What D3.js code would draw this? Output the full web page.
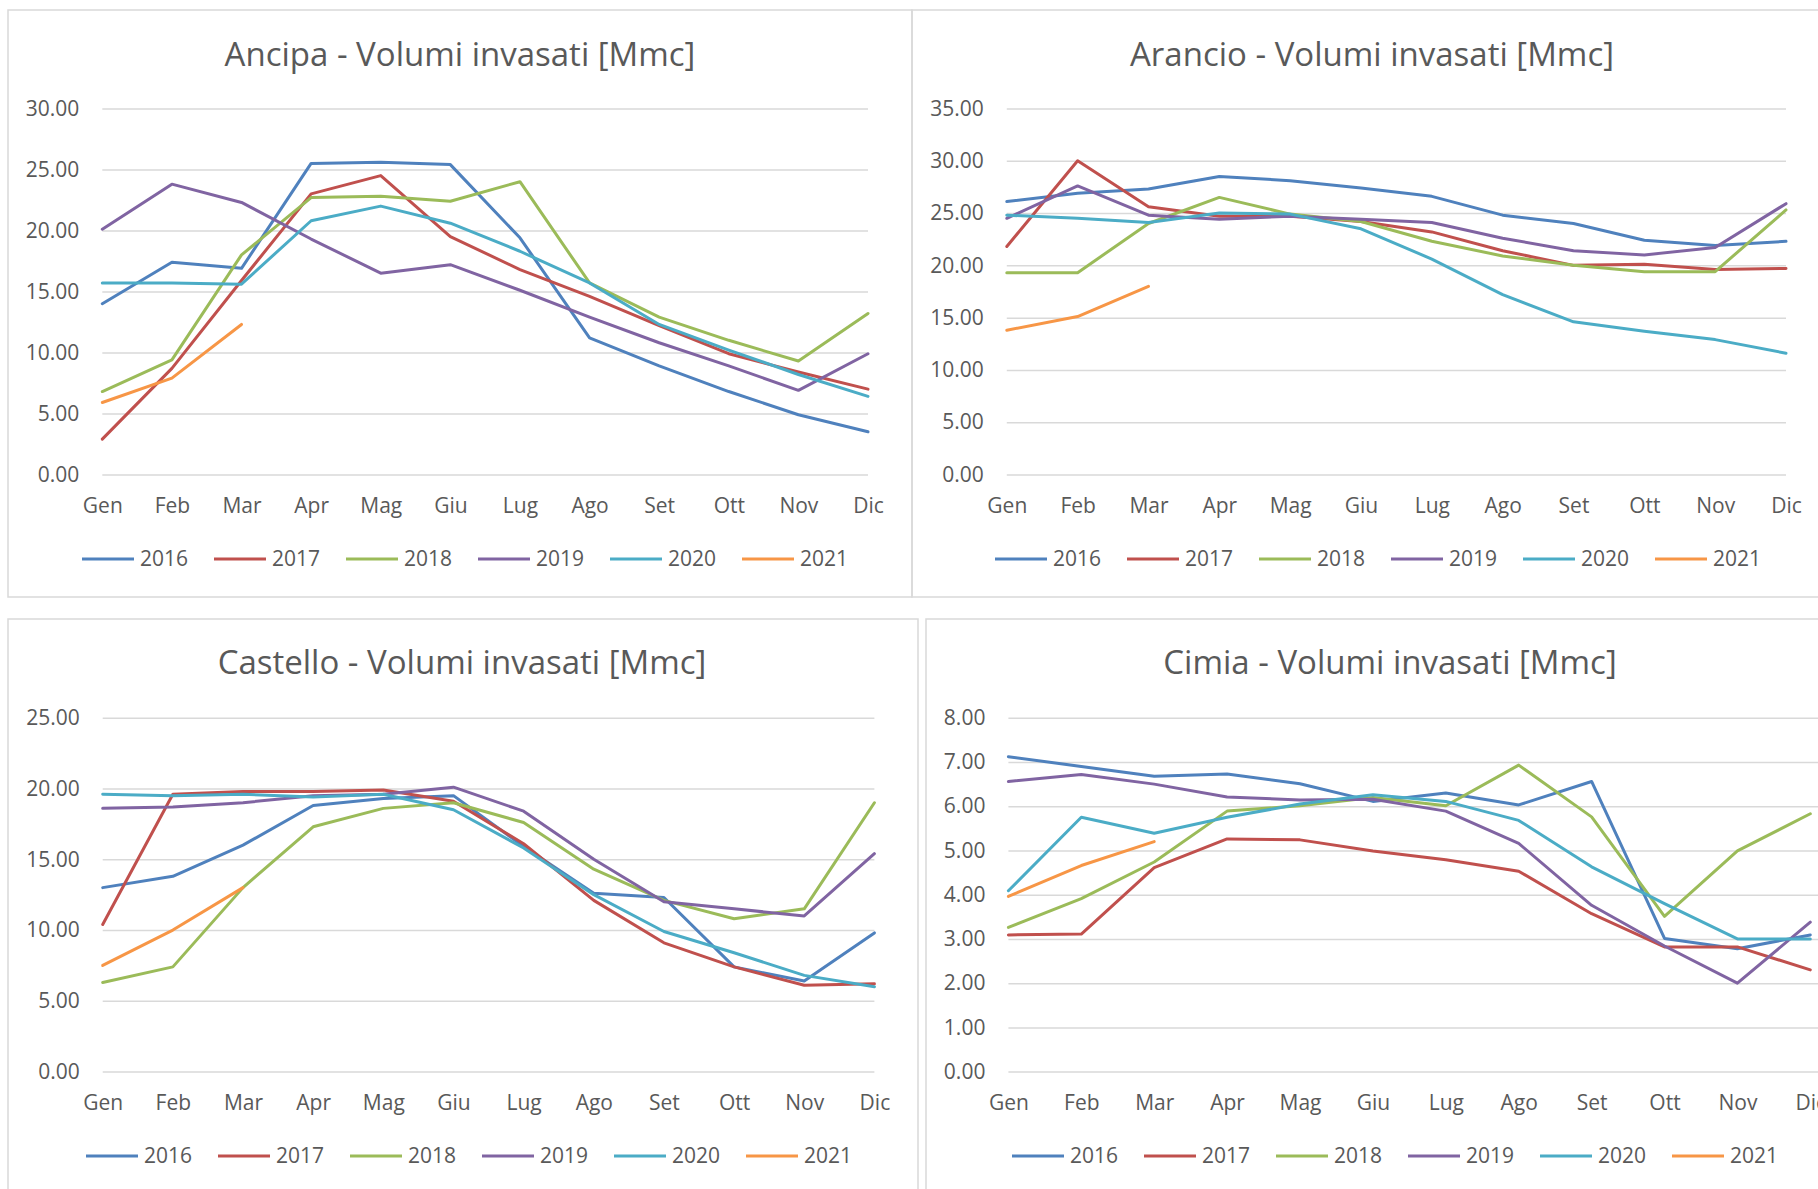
<!DOCTYPE html>
<html>
<head>
<meta charset="utf-8">
<script src="https://cdn.jsdelivr.net/npm/d3@7"></script>
<style>
    body { margin: 0; background: #fff; }
    svg { display: block; }
    text { font-family: "Open Sans", sans-serif; fill: #595959; }
</style>
</head>
<body>
<div id="chart"></div>
<script>
// months and series
var months = ["Gen", "Feb", "Mar", "Apr", "Mag", "Giu", "Lug", "Ago", "Set", "Ott", "Nov", "Dic"];
var years = ["2016", "2017", "2018", "2019", "2020", "2021"];
var colors = ["#4F81BD", "#C0504D", "#9BBB59", "#8064A2", "#4BACC6", "#F79646"];

// one row per year, values in Mmc
var ancipa = [
    [14.0, 17.4, 16.9, 25.5, 25.6, 25.4, 19.4, 11.2, 8.9, 6.8, 4.9, 3.5],
    [2.9, 8.7, 15.9, 23.0, 24.5, 19.5, 16.8, 14.6, 12.2, 9.9, 8.4, 7.0],
    [6.8, 9.4, 18.0, 22.7, 22.8, 22.4, 24.0, 15.7, 12.9, 11.0, 9.3, 13.2],
    [20.1, 23.8, 22.3, 19.3, 16.5, 17.2, 15.1, 12.9, 10.8, 8.9, 6.9, 9.9],
    [15.7, 15.7, 15.6, 20.8, 22.0, 20.6, 18.3, 15.7, 12.3, 10.2, 8.2, 6.4],
    [5.9, 7.9, 12.3]
];
var arancio = [
    [26.1, 26.9, 27.3, 28.5, 28.1, 27.4, 26.6, 24.8, 24.0, 22.4, 21.9, 22.3],
    [21.8, 30.0, 25.6, 24.7, 24.7, 24.2, 23.2, 21.4, 20.0, 20.1, 19.6, 19.7],
    [19.3, 19.3, 24.0, 26.5, 24.9, 24.2, 22.3, 20.9, 20.0, 19.4, 19.4, 25.3],
    [24.5, 27.6, 24.8, 24.4, 24.7, 24.4, 24.1, 22.6, 21.4, 21.0, 21.7, 25.9],
    [24.8, 24.5, 24.1, 25.0, 24.9, 23.5, 20.6, 17.2, 14.6, 13.7, 12.9, 11.6],
    [13.8, 15.1, 18.0]
];
var castello = [
    [13.0, 13.8, 16.0, 18.8, 19.3, 19.5, 15.9, 12.6, 12.3, 7.4, 6.4, 9.8],
    [10.4, 19.6, 19.8, 19.8, 19.9, 19.1, 16.1, 12.1, 9.1, 7.4, 6.1, 6.2],
    [6.3, 7.4, 13.0, 17.3, 18.6, 19.0, 17.6, 14.3, 12.1, 10.8, 11.5, 19.0],
    [18.6, 18.7, 19.0, 19.5, 19.6, 20.1, 18.4, 15.0, 12.0, 11.5, 11.0, 15.4],
    [19.6, 19.5, 19.6, 19.4, 19.6, 18.5, 15.8, 12.5, 9.9, 8.4, 6.8, 6.0],
    [7.5, 10.0, 13.0]
];
var cimia = [
    [7.12, 6.90, 6.68, 6.73, 6.51, 6.11, 6.30, 6.03, 6.56, 3.01, 2.78, 3.09],
    [3.09, 3.11, 4.61, 5.26, 5.24, 4.99, 4.79, 4.53, 3.57, 2.82, 2.82, 2.30],
    [3.26, 3.91, 4.74, 5.89, 6.01, 6.20, 6.01, 6.93, 5.76, 3.51, 4.99, 5.83],
    [6.56, 6.72, 6.50, 6.21, 6.14, 6.16, 5.89, 5.16, 3.76, 2.84, 2.00, 3.38],
    [4.09, 5.75, 5.39, 5.75, 6.05, 6.26, 6.11, 5.68, 4.63, 3.80, 3.00, 3.00],
    [3.96, 4.66, 5.20]
];

var titles = ["Ancipa - Volumi invasati [Mmc]", "Arancio - Volumi invasati [Mmc]",
              "Castello - Volumi invasati [Mmc]", "Cimia - Volumi invasati [Mmc]"];
var yMax = [30, 35, 25, 8];
var yStep = [5, 5, 5, 1];

// layout of the four chart boxes
var panels = [
    {data: ancipa,   frame: [8, 10, 904, 587],   x: [102.3, 868], grid: 868,  y: [474.5, 108.5], cx: 460,  legX: 464,  titleY: 54,  catY: 506,  legY: 559},
    {data: arancio,  frame: [912, 10, 930, 587], x: [1006.8, 1786], grid: 1786, y: [474.5, 108.5], cx: 1372, legX: 1377, titleY: 54,  catY: 506,  legY: 559},
    {data: castello, frame: [8, 619, 910, 620],  x: [102.7, 874.4], grid: 874.4, y: [1071.6, 717.8], cx: 462, legX: 468, titleY: 662, catY: 1103, legY: 1156},
    {data: cimia,    frame: [926, 619, 920, 620], x: [1008.4, 1810.3], grid: 1830, y: [1071.6, 717.8], cx: 1390, legX: 1394, titleY: 662, catY: 1103, legY: 1156}
];

var svg = d3.select("#chart").append("svg")
    .attr("width", 1818)
    .attr("height", 1189);

panels.forEach(function (p, i) {
    var g = svg.append("g");

    g.append("rect")
        .attr("x", p.frame[0]).attr("y", p.frame[1])
        .attr("width", p.frame[2]).attr("height", p.frame[3])
        .attr("fill", "none")
        .attr("stroke", "#d9d9d9")
        .attr("stroke-width", 1.5);

    g.append("text")
        .attr("x", p.cx).attr("y", p.titleY)
        .attr("text-anchor", "middle")
        .attr("dy", "0.35em")
        .style("font-size", "33px")
        .text(titles[i]);

    var x = d3.scalePoint().domain(months).range(p.x);
    var y = d3.scaleLinear().domain([0, yMax[i]]).range(p.y);

    // gridlines + y labels
    var yAxis = g.append("g")
        .attr("transform", "translate(" + p.x[0] + ",0)")
        .call(d3.axisLeft(y)
            .tickValues(d3.range(0, yMax[i] + yStep[i] / 2, yStep[i]))
            .tickFormat(d3.format(".2f"))
            .tickSize(-(p.grid - p.x[0]))
            .tickPadding(23));
    yAxis.select(".domain").remove();
    yAxis.selectAll("line").attr("stroke", "#d9d9d9").attr("stroke-width", 1.5);
    yAxis.selectAll("text").style("font-size", "21px").attr("fill", "#595959");

    // month labels
    var xAxis = g.append("g")
        .attr("transform", "translate(0," + p.catY + ")")
        .call(d3.axisBottom(x).tickSize(0).tickPadding(0));
    xAxis.select(".domain").remove();
    xAxis.selectAll("text").attr("y", 0).attr("dy", "0.35em")
        .style("font-size", "21px").attr("fill", "#595959");

    var line = d3.line()
        .x(function (d, k) { return x(months[k]); })
        .y(function (d) { return y(d); });

    g.selectAll(".series")
        .data(p.data)
        .enter().append("path")
        .attr("d", line)
        .attr("fill", "none")
        .attr("stroke", function (d, k) { return colors[k]; })
        .attr("stroke-width", 3)
        .attr("stroke-linejoin", "round")
        .attr("stroke-linecap", "round");

    // legend
    var legStart = p.legX - 382;
    var leg = g.selectAll(".leg")
        .data(years)
        .enter().append("g")
        .attr("transform", function (d, k) { return "translate(" + (legStart + k * 132) + "," + p.legY + ")"; });
    leg.append("line")
        .attr("x1", 0).attr("x2", 52)
        .attr("stroke", function (d, k) { return colors[k]; })
        .attr("stroke-width", 3);
    leg.append("text")
        .attr("x", 58).attr("dy", "0.35em")
        .style("font-size", "21px")
        .text(function (d) { return d; });
});
</script>
</body>
</html>
